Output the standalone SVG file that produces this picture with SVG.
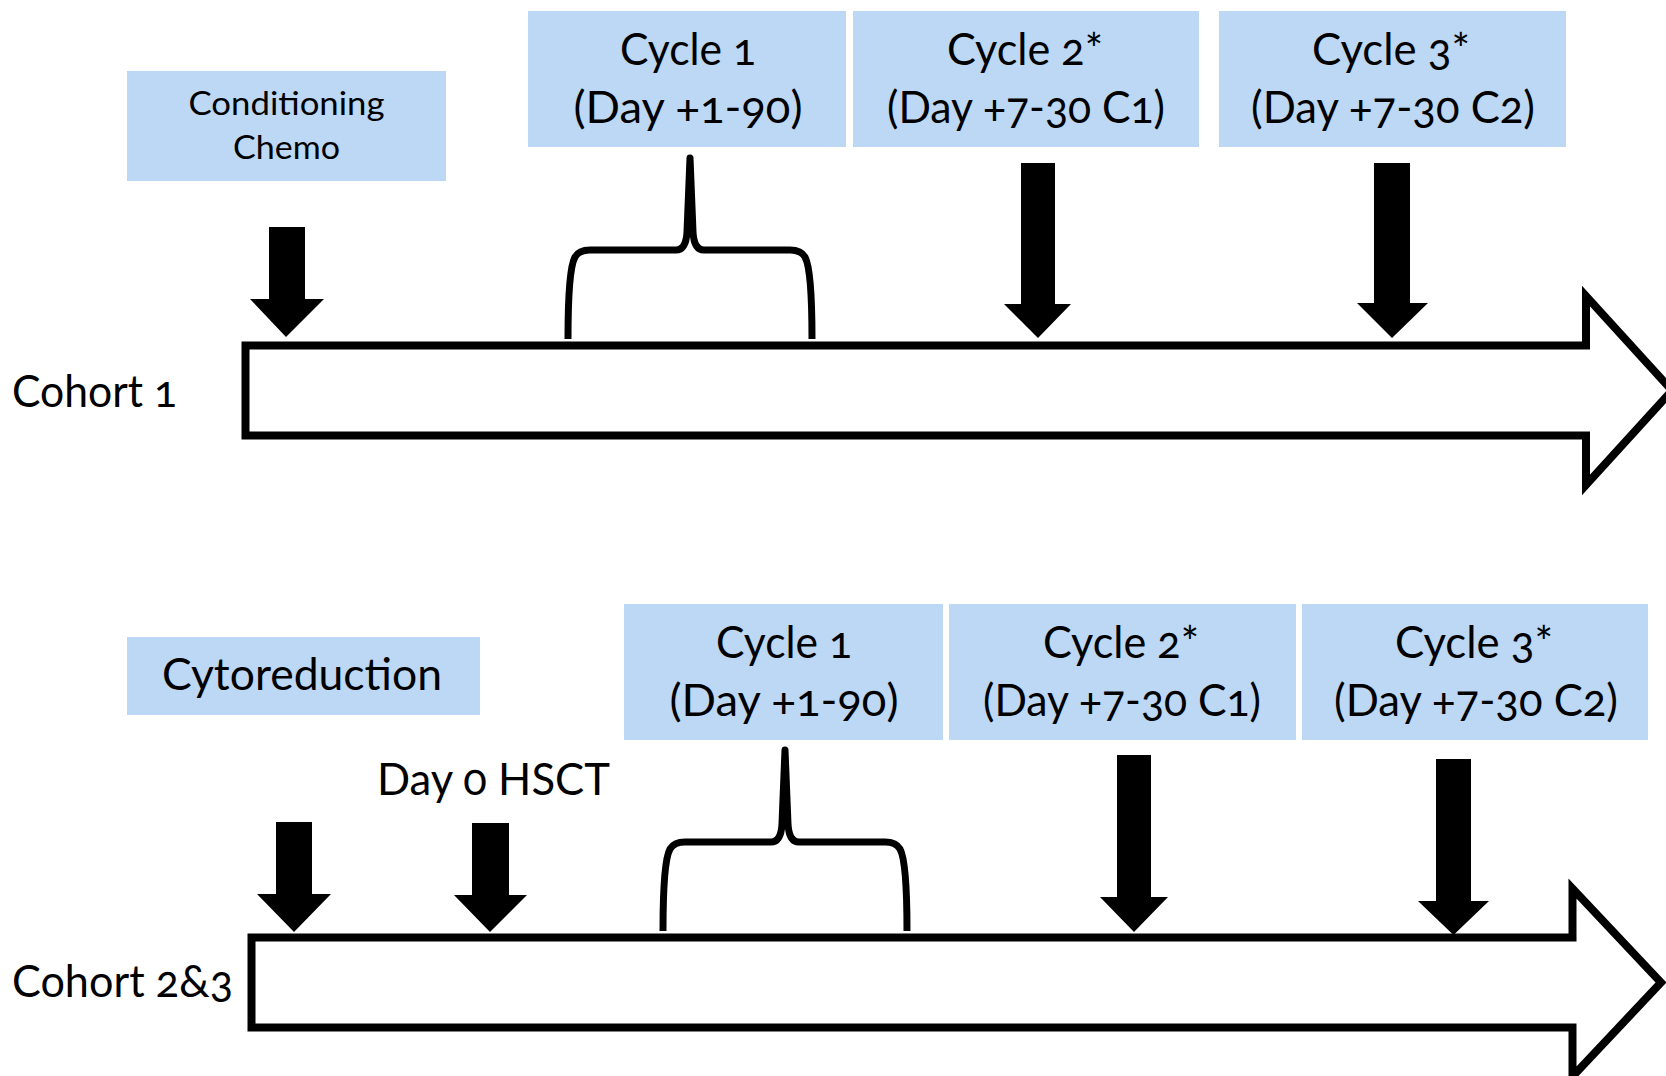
<svg xmlns="http://www.w3.org/2000/svg" width="1666" height="1076" viewBox="0 0 1666 1076">
<style>
.box{fill:#BDD8F4;}
.t{font-family:Lato,"Open Sans","Liberation Sans",sans-serif;fill:#000;font-variant-numeric:oldstyle-nums;}
.big{font-size:44px;}
.mid{font-size:32px;}
.c{text-anchor:middle;}
.blk{fill:#000;}
.tl{fill:#fff;stroke:#000;stroke-width:8;stroke-linejoin:miter;}
.brace{fill:none;stroke:#000;stroke-width:7;stroke-linejoin:round;stroke-linecap:butt;}
</style>
<rect width="1666" height="1076" fill="#fff"/>

<!-- Timelines -->
<g id="timeline1">
<polygon class="tl" points="245.5,345.5 1586,345.5 1586,296 1672,390.5 1586,485 1586,435.5 245.5,435.5"/>
</g>
<g id="timeline2">
<polygon class="tl" points="251.5,937.5 1572.5,937.5 1572.5,888.5 1661,982.5 1572.5,1076.5 1572.5,1027.5 251.5,1027.5"/>
</g>

<!-- Labels -->
<g id="cohort1"><text class="t big" x="12" y="407" textLength="165" lengthAdjust="spacingAndGlyphs">Cohort 1</text></g>
<g id="cohort23"><text class="t big" x="12" y="997" textLength="221" lengthAdjust="spacingAndGlyphs">Cohort 2&amp;3</text></g>
<g id="day0"><text class="t big" x="377" y="795" textLength="233" lengthAdjust="spacingAndGlyphs">Day 0 HSCT</text></g>

<!-- Top row boxes -->
<g id="conditioning">
<rect class="box" x="127" y="71" width="319" height="110"/>
<text class="t mid c" x="286.5" y="115" textLength="196" lengthAdjust="spacingAndGlyphs">Conditioning</text>
<text class="t mid c" x="286.5" y="159" textLength="107" lengthAdjust="spacingAndGlyphs">Chemo</text>
</g>
<g id="cycle1-top">
<rect class="box" x="528" y="11" width="318" height="136"/>
<text class="t big c" x="688" y="65" textLength="136" lengthAdjust="spacingAndGlyphs">Cycle 1</text>
<text class="t big c" x="688" y="123" textLength="229" lengthAdjust="spacingAndGlyphs">(Day +1-90)</text>
</g>
<g id="cycle2-top">
<rect class="box" x="853" y="11" width="346" height="136"/>
<text class="t big c" x="1025" y="65" textLength="156" lengthAdjust="spacingAndGlyphs">Cycle 2*</text>
<text class="t big c" x="1026" y="123" textLength="278" lengthAdjust="spacingAndGlyphs">(Day +7-30 C1)</text>
</g>
<g id="cycle3-top">
<rect class="box" x="1219" y="11" width="347" height="136"/>
<text class="t big c" x="1391" y="65" textLength="158" lengthAdjust="spacingAndGlyphs">Cycle 3*</text>
<text class="t big c" x="1393" y="123" textLength="284" lengthAdjust="spacingAndGlyphs">(Day +7-30 C2)</text>
</g>

<!-- Bottom row boxes -->
<g id="cytoreduction">
<rect class="box" x="127" y="637" width="353" height="78"/>
<text class="t big c" x="302" y="690" textLength="280" lengthAdjust="spacingAndGlyphs">Cytoreduction</text>
</g>
<g id="cycle1-bottom">
<rect class="box" x="624" y="604" width="319" height="136"/>
<text class="t big c" x="784" y="658" textLength="136" lengthAdjust="spacingAndGlyphs">Cycle 1</text>
<text class="t big c" x="784" y="716" textLength="229" lengthAdjust="spacingAndGlyphs">(Day +1-90)</text>
</g>
<g id="cycle2-bottom">
<rect class="box" x="949" y="604" width="347" height="136"/>
<text class="t big c" x="1121" y="658" textLength="156" lengthAdjust="spacingAndGlyphs">Cycle 2*</text>
<text class="t big c" x="1122" y="716" textLength="278" lengthAdjust="spacingAndGlyphs">(Day +7-30 C1)</text>
</g>
<g id="cycle3-bottom">
<rect class="box" x="1302" y="604" width="346" height="136"/>
<text class="t big c" x="1474" y="658" textLength="158" lengthAdjust="spacingAndGlyphs">Cycle 3*</text>
<text class="t big c" x="1476" y="716" textLength="284" lengthAdjust="spacingAndGlyphs">(Day +7-30 C2)</text>
</g>

<!-- Connectors: down arrows and braces -->
<g id="connectors">
<polygon class="blk" points="269,227 305,227 305,299 324,299 286,337 250,299 269,299"/>
<polygon class="blk" points="1021,163 1055,163 1055,304 1071,304 1038,338 1004,304 1021,304"/>
<polygon class="blk" points="1374,163 1410,163 1410,303 1428,303 1392,338 1357,303 1374,303"/>
<path class="brace" d="M568,339 C568,300 570,266 575,257 Q579,250 590,250 L676,250 Q686,250 687,232 L690,158 L693,232 Q694,250 704,250 L790,250 Q801,250 805,257 C810,266 812,300 812,339"/>

<polygon class="blk" points="276,822 312,822 312,894 331,894 294,932 257,894 276,894"/>
<polygon class="blk" points="472,823 509,823 509,895 527,895 490,932 454,895 472,895"/>
<polygon class="blk" points="1117,755 1151,755 1151,897 1168,897 1134,932 1100,897 1117,897"/>
<polygon class="blk" points="1436,759 1471,759 1471,901 1489,901 1453.5,935 1418,901 1436,901"/>
<path class="brace" d="M663,931 C663,892 665,858 670,849 Q674,842 685,842 L771,842 Q781,842 782,824 L785,750 L788,824 Q789,842 799,842 L885,842 Q896,842 900,849 C905,858 907,892 907,931"/>
</g>
</svg>
